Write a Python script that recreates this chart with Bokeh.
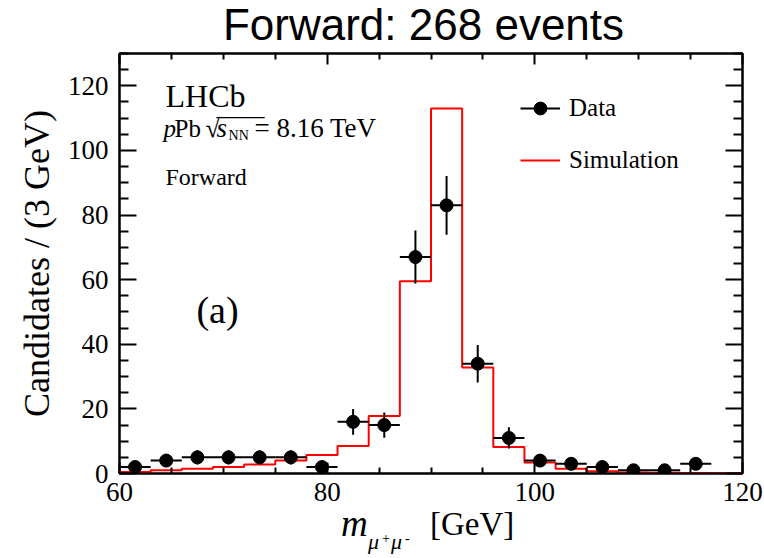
from bokeh.plotting import figure
from bokeh.layouts import column
from bokeh.models import (Range1d, FixedTicker, LinearAxis, Label, Legend, LegendItem,
                          ColumnDataSource, CustomJSTickFormatter, Div)
from bokeh.embed import file_html
from bokeh.resources import INLINE

# ---------------- data ----------------
bin_edges = [60, 63, 66, 69, 72, 75, 78, 81, 84, 87, 90, 93, 96, 99, 102, 105, 108, 111, 114, 117, 120]
sim_counts = [0.5, 1.0, 1.5, 2.0, 2.8, 4.0, 5.7, 8.5, 17.8, 59.5, 113.0, 32.8, 8.2, 3.4, 1.5, 0.7, 0.3, 0.2, 0.15, 0.1]

data_mass = [61.5, 64.5, 67.5, 70.5, 73.5, 76.5, 79.5, 82.5, 85.5, 88.5, 91.5, 94.5, 97.5,
             100.5, 103.5, 106.5, 109.5, 112.5, 115.5]
data_counts = [2, 4, 5, 5, 5, 5, 2, 16, 15, 67, 83, 34, 11, 4, 3, 2, 1, 1, 3]
data_err = [1.4, 2.0, 2.2, 2.2, 2.2, 2.2, 1.4, 4.0, 3.9, 8.2, 9.1, 5.8, 3.3, 2.0, 1.7, 1.4, 1.0, 1.0, 1.7]
half_bin = 1.5

x_major = [60, 80, 100, 120]
x_minor = [65, 70, 75, 85, 90, 95, 105, 110, 115]
y_major = [0, 20, 40, 60, 80, 100, 120]
y_minor = [5, 10, 15, 25, 30, 35, 45, 50, 55, 65, 70, 75, 85, 90, 95, 105, 110, 115, 125, 130]

title_text = "Forward: 268 events"

SERIF = "Liberation Serif"
AXFONT = "serif"
BASELINE_FIX = {"Liberation Serif": 0.30, "Open Sans": 0.38}

src = ColumnDataSource(dict(
    x=data_mass, y=data_counts,
    xl=[m - half_bin for m in data_mass], xr=[m + half_bin for m in data_mass],
    yl=[c - e for c, e in zip(data_counts, data_err)],
    yh=[c + e for c, e in zip(data_counts, data_err)],
))

def lab(fig, x, y, text, size, style="normal", xo=0, yo=0, align="left", baseline="alphabetic", font=SERIF):
    fix = BASELINE_FIX.get(font, 0.3) * float(size.replace("px", "")) if baseline == "alphabetic" else 0
    fig.add_layout(Label(x=x, y=y, x_offset=xo, y_offset=yo + fix, text=text, text_font=font,
                         text_font_size=size, text_font_style=style, text_color="black",
                         text_align=align, text_baseline=baseline))

# ---------------- main plot ----------------
p = figure(frame_width=623, frame_height=420,
           x_range=Range1d(60, 120), y_range=Range1d(0, 130),
           output_backend="svg", toolbar_location=None,
           min_border_left=119, min_border_right=22, min_border_bottom=42, min_border_top=5,
           background_fill_color="white", border_fill_color="white")
p.xgrid.visible = False
p.ygrid.visible = False
p.outline_line_color = "black"
p.outline_line_width = 2

def style_axis(ax, ticks, minor, major_len, minor_len, labels=True):
    ax.ticker = FixedTicker(ticks=ticks, minor_ticks=minor)
    ax.axis_line_color = "black"
    ax.axis_line_width = 2
    ax.major_tick_line_color = "black"
    ax.major_tick_line_width = 2
    ax.minor_tick_line_color = "black"
    ax.minor_tick_line_width = 2
    ax.major_tick_in = major_len
    ax.major_tick_out = 0
    ax.minor_tick_in = minor_len
    ax.minor_tick_out = 0
    ax.major_label_text_font = AXFONT
    ax.major_label_text_font_size = "27px"
    ax.major_label_text_font_style = "normal"
    ax.major_label_text_color = "black"
    if not labels:
        ax.formatter = CustomJSTickFormatter(code="return ''")
        ax.major_label_text_font_size = "0px"
        ax.major_label_standoff = 0

xa = p.xaxis[0]
style_axis(xa, x_major, x_minor, 11, 6)
xa.major_label_standoff = 9

ya = p.yaxis[0]
style_axis(ya, y_major, y_minor, 17, 9)
ya.major_label_standoff = 11
ya.axis_label = "Candidates / (3 GeV)"
ya.axis_label_text_font = AXFONT
ya.axis_label_text_font_size = "36px"
ya.axis_label_text_font_style = "normal"
ya.axis_label_text_color = "black"
ya.axis_label_standoff = 8

top_ax = LinearAxis()
style_axis(top_ax, x_major, x_minor, 11, 6, labels=False)
p.add_layout(top_ax, "above")
right_ax = LinearAxis()
style_axis(right_ax, y_major, y_minor, 17, 9, labels=False)
p.add_layout(right_ax, "right")

step_r = p.step(x=bin_edges, y=sim_counts + [sim_counts[-1]], mode="after",
                line_color="#ff0000", line_width=2)
herr_r = p.segment(x0="xl", y0="y", x1="xr", y1="y", source=src, line_color="black", line_width=2)
verr_r = p.segment(x0="x", y0="yl", x1="x", y1="yh", source=src, line_color="black", line_width=2)
pts_r = p.scatter(x="x", y="y", source=src, size=13, marker="circle",
                  fill_color="black", line_color="black")

legend = Legend(items=[LegendItem(label="Data", renderers=[herr_r, pts_r]),
                       LegendItem(label="Simulation", renderers=[step_r])],
                location=(401, 297), padding=0, margin=0, spacing=20,
                glyph_width=40, glyph_height=32, label_height=32, label_standoff=9,
                label_text_font=SERIF, label_text_font_size="25px", label_text_color="black",
                border_line_color=None, background_fill_alpha=0)
p.add_layout(legend)

lab(p, 64.43, 113.8, "LHCb", "32px")
ax0, ay0 = 64.24, 104.5
lab(p, ax0, ay0, "p", "25px", "italic")
lab(p, ax0, ay0, "Pb", "25px", xo=11)
lab(p, ax0, ay0, "\u221a", "26px", xo=42)
lab(p, ax0, ay0, "____", "24px", xo=53, yo=22)
lab(p, ax0, ay0, "s", "27px", "italic", xo=53)
lab(p, ax0, ay0, "NN", "14px", xo=65, yo=-4)
lab(p, ax0, ay0, "= 8.16 TeV", "27px", xo=91)
lab(p, 64.43, 89.6, "Forward", "24px")
lab(p, 69.44, 50.7, "(a)", "38px", align="center", baseline="middle")

# ---------------- title (HTML) ----------------
title_div = Div(
    text=('<div style="position:relative;width:764px;height:48px;">'
          '<div style="position:absolute;left:112px;top:0;width:623px;text-align:center;'
          "font-family:'Liberation Sans';font-size:44px;line-height:49px;white-space:nowrap;color:#000;\">"
          + title_text + '</div></div>'),
    width=764, height=48, margin=0)

# ---------------- x-axis title (HTML) ----------------
def span(left, top, size, text, italic=False):
    st = "italic" if italic else "normal"
    return ('<span style="position:absolute;left:%dpx;top:%dpx;font-size:%dpx;line-height:%dpx;'
            'font-style:%s;white-space:nowrap;">%s</span>' % (left, top, size, size, st, text))

xlabel_div = Div(
    text=("<div style=\"position:relative;width:764px;height:40px;font-family:'Liberation Serif';color:#000;\">"
          + span(341, -10, 37, "m", True)
          + span(368, 16, 22, "\u03bc", True)
          + span(382, 17, 14, "+")
          + span(391, 16, 22, "\u03bc", True)
          + span(405, 17, 14, "-")
          + span(430, -7, 33, "[GeV]")
          + "</div>"),
    width=764, height=40, margin=0)

open("out.html", "w").write(file_html(column(title_div, p, xlabel_div, spacing=0), INLINE))
